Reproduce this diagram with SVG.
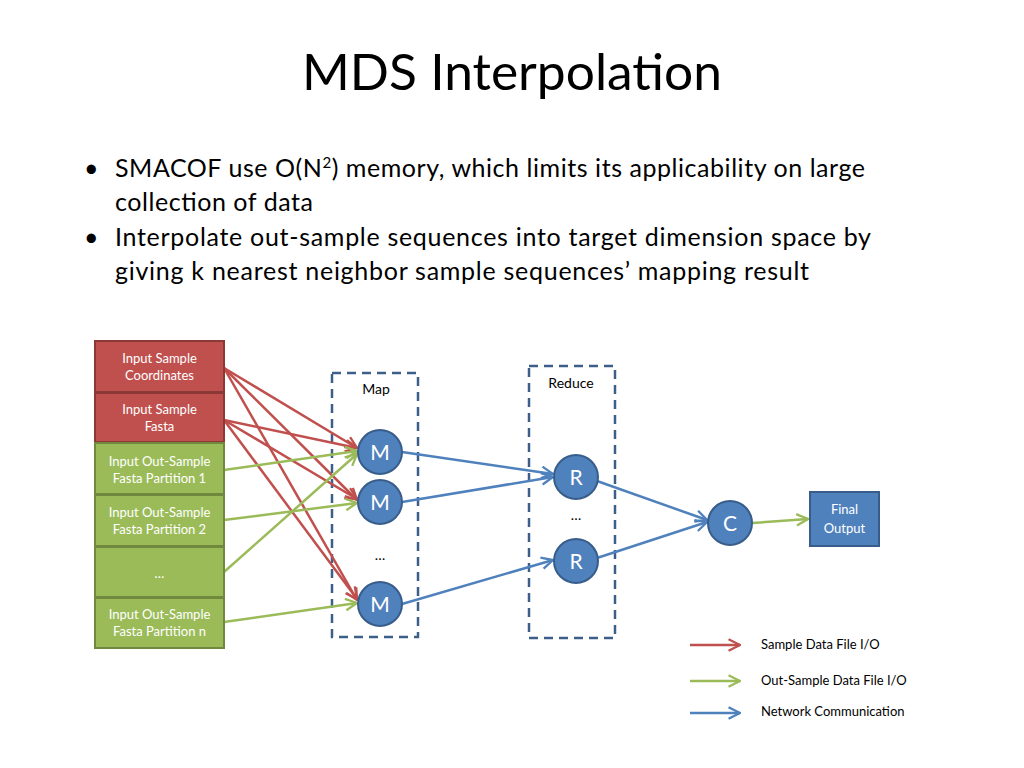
<svg xmlns="http://www.w3.org/2000/svg" width="1024" height="768" viewBox="0 0 1024 768">
<defs>
<style>
text{font-family:Lato,"Open Sans","Liberation Sans",sans-serif}
.title{font-size:50px;fill:#000;text-anchor:middle}
.bul{font-size:25px;fill:#000}
.bt{font-size:13px;fill:#fff;text-anchor:middle}
.ct{font-size:21px;fill:#fff;text-anchor:middle}
.lbl{font-size:14px;fill:#000;text-anchor:middle}
.lg{font-size:13px;fill:#000}
.red{fill:#C0504D;stroke:#8C3836;stroke-width:2}
.grn{fill:#9BBB59;stroke:#71893F;stroke-width:2}
.blu{fill:#4F81BD;stroke:#385D8A;stroke-width:2}
.dash{fill:none;stroke:#3C5F8A;stroke-width:2.5;stroke-dasharray:9,6}
.lr{stroke:#C0504D;stroke-width:2.5;fill:none;marker-end:url(#ar)}
.lgn{stroke:#9BBB59;stroke-width:2.5;fill:none;marker-end:url(#ag)}
.lb{stroke:#4F81BD;stroke-width:2.5;fill:none;marker-end:url(#ab)}
</style>
<marker id="ar" viewBox="0 0 12 12" refX="11" refY="6" markerWidth="5.5" markerHeight="5.5" orient="auto" markerUnits="strokeWidth"><path d="M1,1 L11,6 L1,11" fill="none" stroke="#C0504D" stroke-width="2"/></marker>
<marker id="ag" viewBox="0 0 12 12" refX="11" refY="6" markerWidth="5.5" markerHeight="5.5" orient="auto" markerUnits="strokeWidth"><path d="M1,1 L11,6 L1,11" fill="none" stroke="#9BBB59" stroke-width="2"/></marker>
<marker id="ab" viewBox="0 0 12 12" refX="11" refY="6" markerWidth="5.5" markerHeight="5.5" orient="auto" markerUnits="strokeWidth"><path d="M1,1 L11,6 L1,11" fill="none" stroke="#4F81BD" stroke-width="2"/></marker>
</defs>
<rect width="1024" height="768" fill="#fff"/>
<text class="title" x="512" y="90" textLength="420" lengthAdjust="spacingAndGlyphs">MDS Interpolation</text>
<g id="bullets">
<text class="bul" x="84" y="177" font-size="20">•</text>
<text class="bul" x="115" y="177" textLength="750" lengthAdjust="spacing">SMACOF use O(N<tspan font-size="15" dy="-9">2</tspan><tspan dy="9">) memory, which limits its applicability on large</tspan></text>
<text class="bul" x="115" y="211" textLength="198" lengthAdjust="spacing">collection of data</text>
<text class="bul" x="84" y="246" font-size="20">•</text>
<text class="bul" x="115" y="246" textLength="756" lengthAdjust="spacing">Interpolate out-sample sequences into target dimension space by</text>
<text class="bul" x="115" y="280" textLength="694" lengthAdjust="spacing">giving k nearest neighbor sample sequences’ mapping result</text>
</g>
<g id="map-group"><rect class="dash" x="332" y="373" width="86" height="264"/><text class="lbl" x="376" y="394">Map</text></g>
<g id="reduce-group"><rect class="dash" x="529" y="366" width="86" height="272"/><text class="lbl" x="571" y="388">Reduce</text></g>
<g id="connectors">
<line class="lr" x1="224" y1="368" x2="357" y2="448"/>
<line class="lr" x1="224" y1="368" x2="357" y2="500"/>
<line class="lr" x1="224" y1="368" x2="357" y2="600"/>
<line class="lr" x1="224" y1="420" x2="357" y2="448"/>
<line class="lr" x1="224" y1="420" x2="357" y2="499"/>
<line class="lr" x1="224" y1="420" x2="357" y2="599"/>
<line class="lgn" x1="224" y1="470" x2="357" y2="451"/>
<line class="lgn" x1="224" y1="520" x2="357" y2="503"/>
<line class="lgn" x1="224" y1="572" x2="357" y2="454"/>
<line class="lgn" x1="224" y1="622" x2="357" y2="603"/>
<line class="lb" x1="402" y1="452" x2="553" y2="474"/>
<line class="lb" x1="402" y1="502" x2="553" y2="477"/>
<line class="lb" x1="402" y1="604" x2="553" y2="560"/>
<line class="lb" x1="597" y1="481" x2="707" y2="520"/>
<line class="lb" x1="597" y1="558" x2="707" y2="522"/>
<line class="lgn" x1="752" y1="523" x2="808" y2="519"/>
</g>
<g id="in-coords"><rect class="red" x="95" y="341" width="129" height="51"/><text class="bt" x="159.5" y="363">Input Sample</text><text class="bt" x="159.5" y="380">Coordinates</text></g>
<g id="in-fasta"><rect class="red" x="95" y="393" width="129" height="49"/><text class="bt" x="159.5" y="414">Input Sample</text><text class="bt" x="159.5" y="431">Fasta</text></g>
<g id="part1"><rect class="grn" x="95" y="443" width="129" height="51"/><text class="bt" x="159.5" y="466">Input Out-Sample</text><text class="bt" x="159.5" y="483">Fasta Partition 1</text></g>
<g id="part2"><rect class="grn" x="95" y="495" width="129" height="51"/><text class="bt" x="159.5" y="517">Input Out-Sample</text><text class="bt" x="159.5" y="534">Fasta Partition 2</text></g>
<g id="part-dots"><rect class="grn" x="95" y="547" width="129" height="50"/><text class="bt" x="159.5" y="578">…</text></g>
<g id="partn"><rect class="grn" x="95" y="598" width="129" height="50"/><text class="bt" x="159.5" y="619">Input Out-Sample</text><text class="bt" x="159.5" y="636">Fasta Partition n</text></g>
<g id="m1"><circle class="blu" cx="380" cy="452" r="22"/><text class="ct" x="380" y="460">M</text></g>
<g id="m2"><circle class="blu" cx="380" cy="502" r="22"/><text class="ct" x="380" y="510">M</text></g>
<text class="lbl" x="380" y="560" font-size="18">…</text>
<g id="m3"><circle class="blu" cx="380" cy="604" r="22"/><text class="ct" x="380" y="612">M</text></g>
<g id="r1"><circle class="blu" cx="576" cy="477" r="22"/><text class="ct" x="576" y="485">R</text></g>
<text class="lbl" x="576" y="520" font-size="18">…</text>
<g id="r2"><circle class="blu" cx="576" cy="561" r="22"/><text class="ct" x="576" y="569">R</text></g>
<g id="c"><circle class="blu" cx="730" cy="523" r="22"/><text class="ct" x="730" y="531">C</text></g>
<g id="final"><rect class="blu" x="810" y="492" width="69" height="54"/><text class="bt" x="844.5" y="514">Final</text><text class="bt" x="844.5" y="533">Output</text></g>
<g id="legend">
<line class="lr" x1="690" y1="645" x2="740" y2="645"/><text class="lg" x="761" y="649">Sample Data File I/O</text>
<line class="lgn" x1="690" y1="681" x2="740" y2="681"/><text class="lg" x="761" y="685">Out-Sample Data File I/O</text>
<line class="lb" x1="690" y1="713" x2="740" y2="713"/><text class="lg" x="761" y="716">Network Communication</text>
</g>
</svg>
